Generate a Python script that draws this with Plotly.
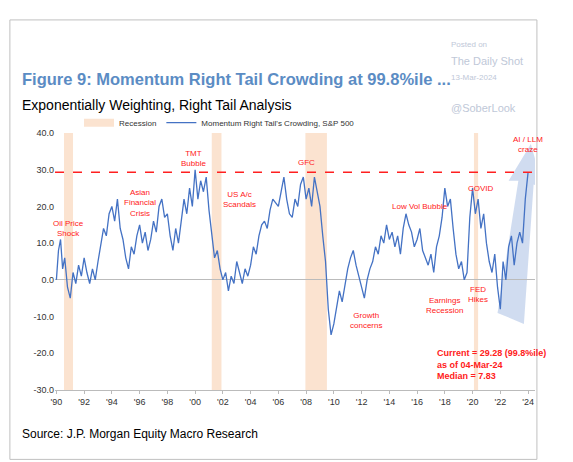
import plotly.graph_objects as go

years = [1990.0,1990.15,1990.3,1990.45,1990.6,1990.8,1991.0,1991.2,1991.4,1991.6,1991.8,1992.0,1992.2,1992.4,1992.6,1992.8,1993.0,1993.2,1993.4,1993.6,1993.8,1994.0,1994.2,1994.4,1994.6,1994.8,1995.0,1995.2,1995.4,1995.6,1995.8,1996.0,1996.2,1996.4,1996.6,1996.8,1997.0,1997.2,1997.4,1997.6,1997.8,1998.0,1998.2,1998.4,1998.6,1998.8,1999.0,1999.2,1999.4,1999.6,1999.8,2000.0,2000.2,2000.4,2000.6,2000.8,2001.0,2001.2,2001.4,2001.6,2001.8,2002.0,2002.2,2002.4,2002.6,2002.8,2003.0,2003.2,2003.4,2003.6,2003.8,2004.0,2004.2,2004.4,2004.6,2004.8,2005.0,2005.2,2005.4,2005.6,2005.8,2006.0,2006.2,2006.4,2006.6,2006.8,2007.0,2007.2,2007.4,2007.6,2007.8,2008.0,2008.2,2008.4,2008.6,2008.8,2009.0,2009.2,2009.4,2009.6,2009.8,2010.0,2010.2,2010.4,2010.6,2010.8,2011.0,2011.2,2011.4,2011.6,2011.8,2012.0,2012.2,2012.4,2012.6,2012.8,2013.0,2013.2,2013.4,2013.6,2013.8,2014.0,2014.2,2014.4,2014.6,2014.8,2015.0,2015.2,2015.4,2015.6,2015.8,2016.0,2016.2,2016.4,2016.6,2016.8,2017.0,2017.2,2017.4,2017.6,2017.8,2018.0,2018.2,2018.4,2018.6,2018.8,2019.0,2019.2,2019.4,2019.6,2019.8,2020.0,2020.2,2020.4,2020.6,2020.8,2021.0,2021.2,2021.4,2021.6,2021.8,2022.0,2022.2,2022.4,2022.6,2022.8,2023.0,2023.2,2023.4,2023.6,2023.8,2024.0,2024.1,2024.17]
crowding = [0,8,11,3,6,-2,-5,2,-1,4,1,6,2,-1,3,0,5,9,14,12,18,20,16,22,14,11,6,3,9,7,12,15,10,13,8,11,16,13,20,22,17,18,12,8,14,10,16,22,18,25,20,30,22,27,24,28,19,12,6,8,3,0,2,-3,1,-1,5,2,-1,3,1,4,9,7,12,15,16,14,19,22,21,20,24,28,22,18,17,22,20,26,28,22,25,20,28,24,20,12,5,-8,-15,-12,-8,-3,-6,-1,3,6,8,4,1,-2,-5,0,3,5,9,7,12,10,15,11,13,9,12,7,14,18,15,13,9,11,14,8,6,4,7,2,9,12,17,25,20,22,14,7,3,5,0,2,17,25,18,22,14,18,10,5,2,7,-2,-8,5,0,9,12,4,10,13,10,22,29.28]
recessions = [(1990.55,1991.2),(2001.2,2001.9),(2007.95,2009.5),(2020.1,2020.4)]
tick_vals = list(range(1990, 2025, 2))
tick_text = ["'" + str(y)[2:] for y in tick_vals]
y_ticks = [-30,-20,-10,0,10,20,30,40]
current = 29.28

fig = go.Figure()
for a,b in recessions:
    fig.add_vrect(x0=a, x1=b, fillcolor="#fbe3d0", opacity=1, line_width=0, layer="below")
fig.add_trace(go.Scatter(x=[None], y=[None], mode="lines", line=dict(color="#fbe3d0", width=8), name="Recession"))
fig.add_trace(go.Scatter(x=years, y=crowding, mode="lines", line=dict(color="#4472c4", width=1.3),
                         name="Momentum Right Tail's Crowding, S&P 500"))
fig.add_hline(y=current, line=dict(color="#ff2020", dash="dash", width=1.5))
fig.add_shape(type="path", xref="x", yref="y",
              path="M 2021.8,-9 L 2023.3,27 L 2022.6,27 L 2024.2,37 L 2025.1,25 L 2024.4,26 L 2023.7,-12 Z",
              fillcolor="rgba(68,114,196,0.25)", line_width=0, layer="below")

red = "#ff2020"
ann = [(1990.9,14,"Oil Price<br>Shock"),(1996.0,21,"Asian<br>Financial<br>Crisis"),(1999.9,33,"TMT<br>Bubble"),
       (2003.2,22,"US A/c<br>Scandals"),(2008.0,32,"GFC"),(2012.3,-11,"Growth<br>concerns"),(2016.2,20,"Low Vol Bubble"),
       (2018.0,-7,"Earnings<br>Recession"),(2020.6,25,"COVID"),(2020.4,-4,"FED<br>Hikes"),(2024.0,37,"AI / LLM<br>craze")]
for x,y,t in ann:
    fig.add_annotation(x=x,y=y,text=t,showarrow=False,font=dict(color=red,size=8,family="Liberation Sans"))
fig.add_annotation(x=2017.3,y=-23,xanchor="left",align="left",showarrow=False,
                   text="<b>Current = 29.28 (99.8%ile)<br>as of 04-Mar-24<br>Median = 7.83</b>",
                   font=dict(color=red,size=9,family="Liberation Sans"))

fig.add_annotation(xref="paper",yref="paper",x=-0.073,y=1.253,xanchor="left",showarrow=False,
                   text="<b>Figure 9: Momentum Right Tail Crowding at 99.8%ile ...</b>",font=dict(color="#5b8cc4",size=16.5,family="Liberation Sans"))
fig.add_annotation(xref="paper",yref="paper",x=-0.073,y=1.148,xanchor="left",showarrow=False,
                   text="Exponentially Weighting, Right Tail Analysis",font=dict(color="black",size=14,family="Liberation Sans"))
fig.add_annotation(xref="paper",yref="paper",x=-0.073,y=-0.206,xanchor="left",showarrow=False,
                   text="Source: J.P. Morgan Equity Macro Research",font=dict(color="black",size=12,family="Liberation Sans"))
for y,t,s in [(1.37,"Posted on",8),(1.31,"The Daily Shot",11),(1.24,"13-Mar-2024",8),(1.13,"@SoberLook",11)]:
    fig.add_annotation(xref="paper",yref="paper",x=0.82,y=y,xanchor="left",showarrow=False,text=t,
                       font=dict(color="#c0c8d8",size=s,family="Liberation Sans"))
fig.add_shape(type="rect",xref="paper",yref="paper",x0=-0.094,x1=1.004,y0=-0.27,y1=1.44,line=dict(color="#c0c0c0",width=1))

fig.update_layout(width=573,height=462,margin=dict(l=47,r=46,t=125,b=80),plot_bgcolor="white",paper_bgcolor="white",
                  showlegend=True,legend=dict(orientation="h",x=0.05,y=1.04,yanchor="middle",font=dict(size=8,family="Liberation Sans"),bgcolor="rgba(0,0,0,0)"),
                  font=dict(family="Liberation Sans",size=9,color="#333"))
fig.update_xaxes(range=[1989.9,2024.5],tickvals=tick_vals,ticktext=tick_text,showgrid=False,showline=True,linecolor="#bbb",ticks="outside",ticklen=3,tickcolor="#bbb")
fig.update_yaxes(range=[-30,40],tickvals=y_ticks,ticktext=[f"{v:.1f}" for v in y_ticks],showgrid=False,zeroline=True,zerolinecolor="#bbb",zerolinewidth=1)
fig.write_html("out.html")
